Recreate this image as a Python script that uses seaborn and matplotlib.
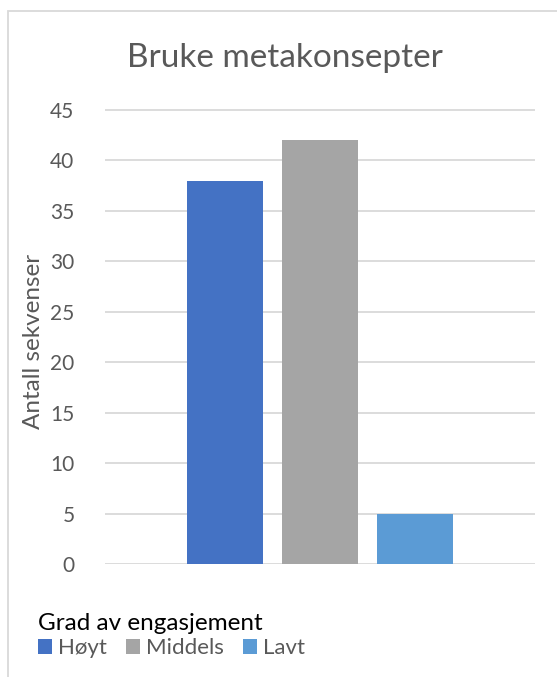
import matplotlib
matplotlib.use("Agg")
import matplotlib.pyplot as plt
from matplotlib.patches import Rectangle
import pandas as pd
import seaborn as sns

# Data
grader = ["Høyt", "Middels", "Lavt"]
antall = [38, 42, 5]
farger = ["#4472C4", "#A5A5A5", "#5B9BD5"]
y_ticks = [0, 5, 10, 15, 20, 25, 30, 35, 40, 45]

tittel = "Bruke metakonsepter"
y_tittel = "Antall sekvenser"
legend_tittel = "Grad av engasjement"

sns.set_theme(style="white")
plt.rcParams["font.family"] = ["Lato", "DejaVu Sans"]

W, H = 557, 677
fig = plt.figure(figsize=(W / 100, H / 100), dpi=100)
fig.patch.set_facecolor("white")

# Chart-area border (light gray)
fig.add_artist(Rectangle((8 / W, -0.05), 1.2, 1 - 11 / H + 0.05,
                         transform=fig.transFigure, fill=False,
                         edgecolor="#D9D9D9", linewidth=1.3))

# Plot area: y=0 at 564 px, y=45 at 110 px
px_per_unit = (564 - 110) / 45
ymax = 46
top_px = 564 - ymax * px_per_unit
ax = fig.add_axes([105 / W, 1 - 564 / H, (535 - 105) / W, (564 - top_px) / H])

df = pd.DataFrame({"grad": grader, "antall": antall})
sns.barplot(data=df, x="grad", y="antall", hue="grad", order=grader,
            hue_order=grader, palette=farger, saturation=1, width=0.8,
            linewidth=0, legend=True, ax=ax)

ax.set_xlim(-1.265, 3.265)
ax.set_ylim(0, ymax)
ax.set_yticks(y_ticks)
ax.set_yticklabels([str(v) for v in y_ticks], color="#595959", fontsize=15)
ax.set_xticks([])
ax.set_xlabel("")
ax.set_ylabel(y_tittel, color="#595959", fontsize=17.5)
ax.yaxis.set_label_coords(-(105 - 44) / (535 - 105), (564 - 341) / (564 - top_px))
ax.tick_params(axis="y", length=0, pad=22)
for s in ax.spines.values():
    s.set_visible(False)
ax.grid(axis="y", color="#D9D9D9", linewidth=1.3)
ax.set_axisbelow(True)

fig.text(284.5 / W, 1 - 67 / H, tittel, ha="center", va="baseline",
         fontsize=24, color="#595959")

handles, labels = ax.get_legend_handles_labels()
ax.get_legend().remove()
leg = fig.legend(handles, labels, title=legend_tittel, ncol=3,
                 loc="upper left", bbox_to_anchor=(38 / W, 1 - 613 / H),
                 frameon=False, fontsize=16, title_fontsize=17.5,
                 handlelength=0.63, handleheight=0.63, handletextpad=0.27,
                 columnspacing=0.85, borderpad=0, borderaxespad=0,
                 labelspacing=0.2)
leg._legend_box.align = "left"
leg.get_title().set_color("black")
for t in leg.get_texts():
    t.set_color("#595959")

fig.savefig("out.png", dpi=100)
